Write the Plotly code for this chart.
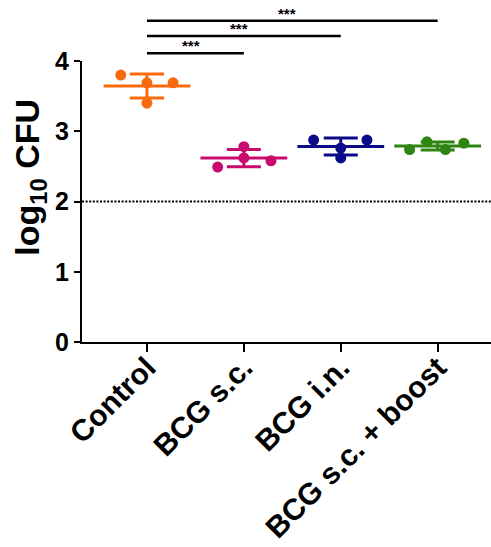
import numpy as np
import plotly.graph_objects as go

categories = ["Control", "BCG s.c.", "BCG i.n.", "BCG s.c. + boost"]
control = [3.80, 3.69, 3.69, 3.40]
bcg_sc = [2.49, 2.78, 2.62, 2.58]
bcg_in = [2.875, 2.875, 2.76, 2.62]
bcg_boost = [2.74, 2.85, 2.74, 2.83]
groups = [control, bcg_sc, bcg_in, bcg_boost]
y_ticks = [0, 1, 2, 3, 4]
detection_limit = 2
comparisons = [("Control", "BCG s.c.", "***"),
               ("Control", "BCG i.n.", "***"),
               ("Control", "BCG s.c. + boost", "***")]

# horizontal spread of the dots within each column (category units)
spread = [[-0.27, 0, 0.27, 0],
          [-0.27, 0, 0, 0.28],
          [-0.28, 0.27, 0, 0],
          [-0.29, -0.11, 0.08, 0.27]]
colors = ["#F96A0C", "#C80A6C", "#0C0C88", "#2F8512"]
FONT = "Liberation Sans, Arial, sans-serif"

fig = go.Figure()
for i, (vals, col) in enumerate(zip(groups, colors)):
    m = float(np.mean(vals))
    sd = float(np.std(vals, ddof=1))
    fig.add_trace(go.Scatter(
        x=[i], y=[m], mode="markers",
        marker=dict(symbol="line-ew", size=62, line=dict(color=col, width=3)),
        error_y=dict(type="data", array=[sd], visible=True, color=col,
                     thickness=3, width=17),
        showlegend=False, hoverinfo="skip", cliponaxis=False))
    fig.add_trace(go.Scatter(
        x=[i + s for s in spread[i]], y=vals, mode="markers",
        marker=dict(color=col, size=11, line=dict(width=0)),
        showlegend=False, cliponaxis=False))

fig.add_shape(type="line", xref="paper", yref="y", x0=0, x1=1,
              y0=detection_limit, y1=detection_limit,
              line=dict(color="black", width=2, dash="2px,1.6px"))

bracket_levels = [1.028, 1.089, 1.143]
for (a, b, lab), lev in zip(comparisons, bracket_levels):
    xa, xb = categories.index(a), categories.index(b)
    fig.add_shape(type="line", xref="x", yref="paper", x0=xa, x1=xb,
                  y0=lev, y1=lev, line=dict(color="black", width=2.5))
    fig.add_annotation(x=(xa + xb) / 2 - 0.05, y=lev, xref="x", yref="paper",
                       text=f"<b>{lab}</b>", showarrow=False, yanchor="bottom",
                       yshift=-3,
                       font=dict(family=FONT, size=15, color="black"))

fig.add_annotation(text="<b>log<sub>10</sub> CFU</b>", textangle=-90,
                   xref="paper", yref="paper", x=-0.127, y=0.585,
                   xanchor="center", yanchor="middle",
                   showarrow=False, font=dict(family=FONT, size=34, color="black"))

fig.update_xaxes(range=[-0.67, 3.55], tickvals=list(range(len(categories))),
                 ticktext=[f"<b>{c}</b>" for c in categories], tickangle=-45,
                 showline=True, linecolor="black", linewidth=2,
                 ticks="outside", ticklen=8, tickwidth=2, tickcolor="black",
                 ticklabelstandoff=-14,
                 showgrid=False, zeroline=False,
                 tickfont=dict(family=FONT, size=30, color="black"))
fig.update_yaxes(range=[0, 4], tickvals=y_ticks,
                 ticktext=[f"<b>{t}</b>" for t in y_ticks],
                 showline=True, linecolor="black", linewidth=2,
                 ticks="outside", ticklen=6, tickwidth=2, tickcolor="black",
                 showgrid=False, zeroline=False,
                 tickfont=dict(family=FONT, size=25, color="black"))

fig.update_layout(width=491, height=547,
                  margin=dict(l=82, r=0, t=61, b=205, autoexpand=False),
                  plot_bgcolor="white", paper_bgcolor="white",
                  showlegend=False)

fig.write_html("out.html", config={"displayModeBar": False},
               post_script="document.body.style.margin='0';document.body.style.overflow='hidden';")
